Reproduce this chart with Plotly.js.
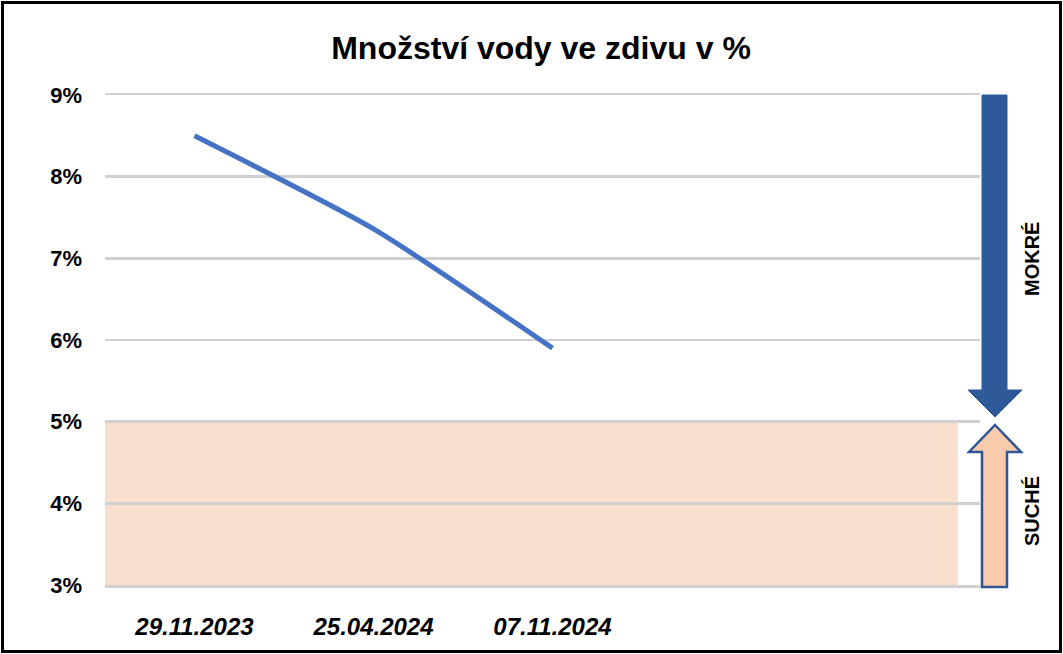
<!DOCTYPE html>
<html>
<head>
<meta charset="utf-8">
<script src="https://cdn.plot.ly/plotly-3.0.1.min.js"></script>
<style>
  html, body { margin: 0; padding: 0; background: #fff; }
  #wrap { position: relative; width: 1063px; height: 654px; }
  #chart { width: 1063px; height: 654px; }
  #frame { position: absolute; left: 1px; top: 1px; width: 1055px; height: 646px; border: 3px solid #000; pointer-events: none; }
</style>
</head>
<body>
<div id="wrap">
  <div id="chart"></div>
  <div id="frame"></div>
</div>
<script>
// ---- data ----
const dates = ['29.11.2023', '25.04.2024', '07.11.2024'];
const moisture = [8.5, 7.36, 5.9];           // % water in masonry
const yTickValues = [3, 4, 5, 6, 7, 8, 9];
const yTickLabels = ['3%', '4%', '5%', '6%', '7%', '8%', '9%'];
const axisMin = 3;
const axisMax = 9;
const dryLimit = 5;                           // below = dry
const zoneLabels = ['MOKRÉ', 'SUCHÉ'];
const titleText = 'Množství vody ve zdivu v %';

// ---- layout helpers (pixel -> paper) ----
const L = 105, R = 980, T = 95, B = 585;
const W = 1063, H = 654;
const px = v => (v - L) / (R - L);
const py = v => (B - v) / (B - T);
const pathOf = pts => 'M ' + pts.map(p => px(p[0]).toFixed(5) + ',' + py(p[1]).toFixed(5)).join(' L ') + ' Z';

const font = '"Liberation Sans", Arial, sans-serif';
const xIdx = dates.map((d, i) => i);

const trace = {
  x: xIdx,
  y: moisture,
  type: 'scatter',
  mode: 'lines',
  line: { color: '#4472C4', width: 5, shape: 'spline', smoothing: 0.6 },
  hoverinfo: 'skip',
  showlegend: false
};

const blueArrow = [[982, T], [1007, T], [1007, 390], [1022, 390], [995, 417], [968, 390], [982, 390]];
const orangeArrow = [[995, 425], [1021, 452], [1007, 452], [1007, 587], [982, 587], [982, 452], [969, 452]];

const layout = {
  width: W, height: H,
  margin: { l: L, r: W - R, t: T, b: H - B, pad: 0 },
  paper_bgcolor: '#ffffff',
  plot_bgcolor: 'rgba(0,0,0,0)',
  title: {
    text: '<b>' + titleText + '</b>',
    font: { family: font, size: 32, color: '#000' },
    x: 541 / W, xanchor: 'center', y: 1 - 48 / H, yanchor: 'middle'
  },
  xaxis: {
    range: [-0.5, (R - L) / 179 - 0.5],
    tickvals: xIdx,
    ticktext: dates.map(d => '<b><i>' + d + '</i></b>'),
    showgrid: false, zeroline: false,
    showline: true, mirror: true, linecolor: '#D0D0D0', linewidth: 2.5,
    ticks: '', ticklabelstandoff: 19,
    tickfont: { family: font, size: 24, color: '#000' },
    fixedrange: true
  },
  yaxis: {
    range: [axisMin, axisMax],
    tickvals: yTickValues,
    ticktext: yTickLabels.map(t => '<b>' + t + '</b>'),
    showgrid: true, gridcolor: '#D0D0D0', gridwidth: 2.5,
    zeroline: false, showline: false,
    ticks: '', ticklabelstandoff: 22,
    tickfont: { family: font, size: 22, color: '#000' },
    fixedrange: true
  },
  shapes: [
    { type: 'rect', layer: 'below', xref: 'paper', yref: 'y',
      x0: 0, x1: px(958), y0: axisMin, y1: dryLimit,
      fillcolor: '#F9E0CE', line: { width: 0 } },
    { type: 'path', layer: 'above', xref: 'paper', yref: 'paper',
      path: pathOf(blueArrow), fillcolor: '#2E5A9A', line: { color: '#2E5A9A', width: 1 } },
    { type: 'path', layer: 'above', xref: 'paper', yref: 'paper',
      path: pathOf(orangeArrow), fillcolor: '#F8CBAD', line: { color: '#2F5597', width: 2.5 } }
  ],
  annotations: [
    { text: '<b>' + zoneLabels[0] + '</b>', xref: 'paper', yref: 'paper', x: px(1032), y: py(259),
      xanchor: 'center', yanchor: 'middle',
      textangle: -90, showarrow: false, font: { family: font, size: 20, color: '#000' } },
    { text: '<b>' + zoneLabels[1] + '</b>', xref: 'paper', yref: 'paper', x: px(1032), y: py(511),
      xanchor: 'center', yanchor: 'middle',
      textangle: -90, showarrow: false, font: { family: font, size: 20, color: '#000' } }
  ]
};

Plotly.newPlot('chart', [trace], layout, { displayModeBar: false, staticPlot: true });
</script>
</body>
</html>
